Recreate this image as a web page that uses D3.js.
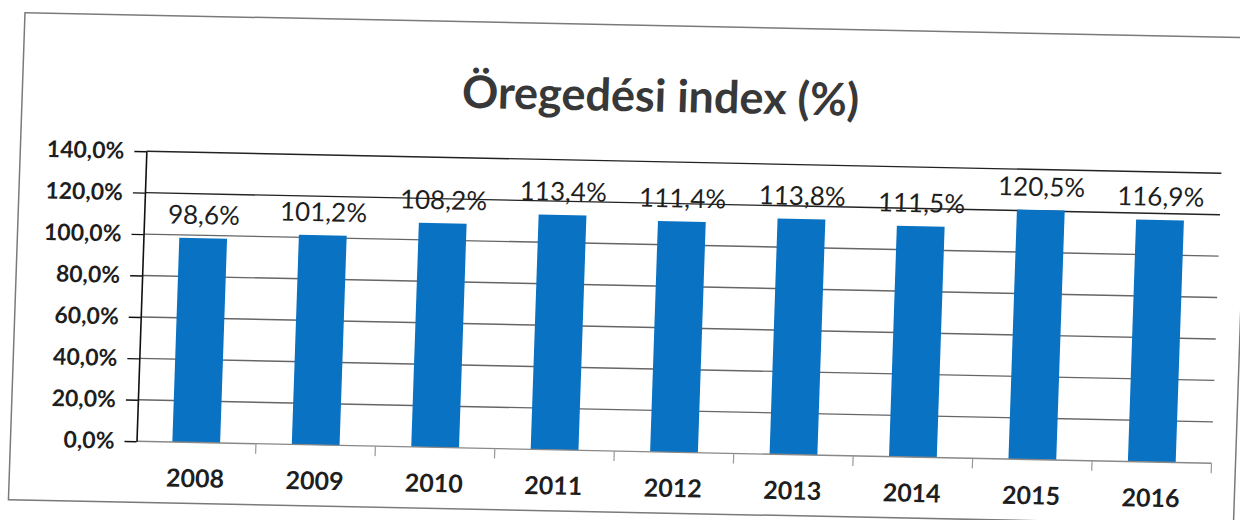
<!DOCTYPE html>
<html>
<head>
<meta charset="utf-8">
<script src="https://cdn.jsdelivr.net/npm/d3@7"></script>
<style>
  body { margin: 0; background: #fff; }
  svg { display: block; }
  text { font-family: Lato, "Open Sans", sans-serif; }
</style>
</head>
<body>
<svg width="1240" height="520"></svg>
<script>
const years = ["2008", "2009", "2010", "2011", "2012", "2013", "2014", "2015", "2016"];
const values = [98.6, 101.2, 108.2, 113.4, 111.4, 113.8, 111.5, 120.5, 116.9];
const yTicks = [0, 20, 40, 60, 80, 100, 120, 140];
const title = "Öregedési index (%)";

const svg = d3.select("svg");
const plot = { left: 143, right: 1218, top: 161, bottom: 451 };
const fmt = d => d3.format(".1f")(d).replace(".", ",") + "%";

// the source is a scan, slightly skewed
const g = svg.append("g")
    .attr("transform", "matrix(1,0.0205,-0.034,1,8.84,-12.7)");

g.append("rect")
    .attr("x", 17)
    .attr("y", 25)
    .attr("width", 1225)
    .attr("height", 487)
    .attr("fill", "#fff")
    .attr("stroke", "#7a7a7a")
    .attr("stroke-width", 1.5);

g.append("text")
    .attr("x", 655)
    .attr("y", 111)
    .attr("text-anchor", "middle")
    .attr("font-size", 45)
    .attr("font-weight", "bold")
    .attr("fill", "#383838")
    .text(title);

const x = d3.scaleBand()
    .domain(years)
    .range([plot.left, plot.right])
    .paddingInner(0.6)
    .paddingOuter(0.3);

const y = d3.scaleLinear()
    .domain([0, 140])
    .range([plot.bottom, plot.top]);

// gridlines
g.append("g")
    .selectAll("line")
    .data(yTicks.filter(d => d > 0))
    .enter().append("line")
    .attr("x1", plot.left)
    .attr("x2", plot.right)
    .attr("y1", d => y(d))
    .attr("y2", d => y(d))
    .attr("stroke", d => d >= 120 ? "#222" : "#666")
    .attr("stroke-width", 1.4);

// bars
g.append("g")
    .selectAll("rect")
    .data(values)
    .enter().append("rect")
    .attr("x", (d, i) => x(years[i]))
    .attr("y", d => y(d))
    .attr("width", x.bandwidth())
    .attr("height", d => y(0) - y(d))
    .attr("fill", "#0a72c2");

// value labels
g.append("g")
    .selectAll("text")
    .data(values)
    .enter().append("text")
    .attr("x", (d, i) => x(years[i]) + x.bandwidth() / 2)
    .attr("y", d => y(d) - 14)
    .attr("text-anchor", "middle")
    .attr("font-size", 26)
    .attr("fill", "#1e1e1e")
    .text(fmt);

// x axis baseline + category separators
g.append("line")
    .attr("x1", plot.left)
    .attr("x2", plot.right)
    .attr("y1", y(0))
    .attr("y2", y(0))
    .attr("stroke", "#888")
    .attr("stroke-width", 1.4);

g.append("g")
    .selectAll("line")
    .data(years)
    .enter().append("line")
    .attr("x1", d => x(d) + x.bandwidth() / 2 + x.step() / 2)
    .attr("x2", d => x(d) + x.bandwidth() / 2 + x.step() / 2)
    .attr("y1", y(0))
    .attr("y2", y(0) + 10)
    .attr("stroke", "#999")
    .attr("stroke-width", 1.2);

const xAxis = g.append("g")
    .attr("transform", `translate(0,${plot.bottom})`)
    .call(d3.axisBottom(x).tickSize(0).tickPadding(27));
xAxis.select(".domain").remove();
xAxis.selectAll("text")
    .attr("font-size", 25)
    .attr("font-weight", "bold")
    .attr("fill", "#1e1e1e")
    .style("font-family", "Lato, sans-serif");

const yAxis = g.append("g")
    .attr("transform", `translate(${plot.left},0)`)
    .call(d3.axisLeft(y).tickValues(yTicks).tickSize(12).tickSizeOuter(0).tickPadding(10).tickFormat(fmt));
yAxis.select(".domain")
    .attr("stroke", "#111")
    .attr("stroke-width", 1.6);
yAxis.selectAll(".tick line")
    .attr("stroke", "#111")
    .attr("stroke-width", 1.4);
yAxis.selectAll("text")
    .attr("font-size", 23)
    .attr("font-weight", "bold")
    .attr("fill", "#1e1e1e")
    .style("font-family", "Lato, sans-serif");
</script>
</body>
</html>
